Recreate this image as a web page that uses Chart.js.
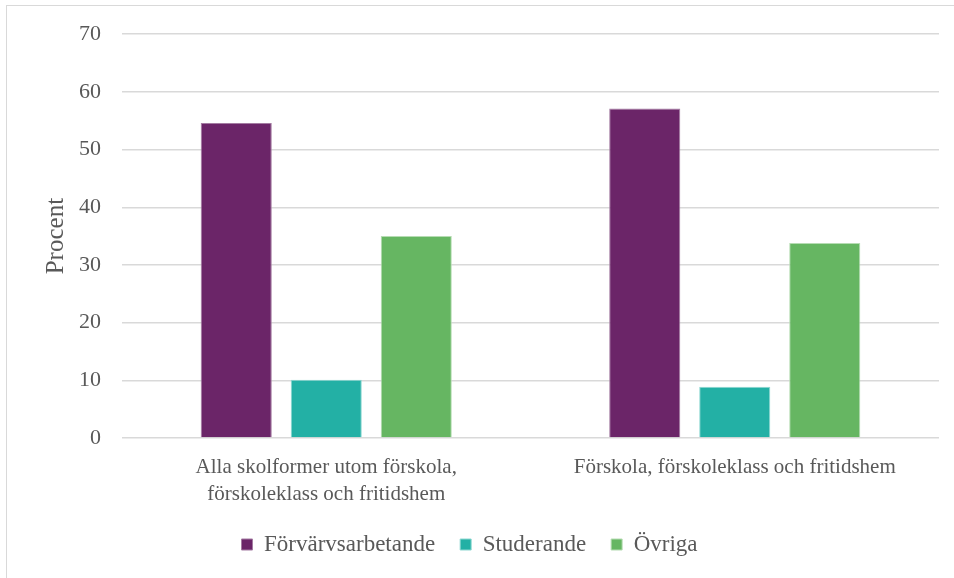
<!DOCTYPE html>
<html>
<head>
<meta charset="utf-8">
<script src="https://cdn.jsdelivr.net/npm/chart.js@4/dist/chart.umd.min.js"></script>
<style>
  html, body { margin: 0; padding: 0; background: #fff; overflow: hidden; }
  #wrap { position: relative; width: 954px; height: 578px; overflow: hidden; }
  #frame { position: absolute; left: 6px; top: 5px; width: 1000px; height: 600px; border: 1px solid #d9d9d9; box-sizing: border-box; }
  canvas { position: absolute; left: 0; top: 0; }
</style>
</head>
<body>
<div id="wrap">
  <div id="frame"></div>
  <canvas id="myChart" width="954" height="578"></canvas>
</div>
<script>
// kategorier och serier
const categories = [
    ['Alla skolformer utom förskola,', 'förskoleklass och fritidshem'],
    'Förskola, förskoleklass och fritidshem'
];
const seriesNames = ['Förvärvsarbetande', 'Studerande', 'Övriga'];
const forvarvsarbetande = [54.6, 57.1];
const studerande = [10.1, 8.9];
const ovriga = [35.0, 33.8];
const yTicks = [0, 10, 20, 30, 40, 50, 60, 70];

const fill = ['#6b2568', '#23b0a5', '#66b662'];
const edge = ['#a47ba2', '#8fd8d2', '#b6dcb3'];
const textColor = '#595959';
const serif = "'Liberation Serif', 'DejaVu Serif', serif";

Chart.defaults.font.family = serif;
Chart.defaults.color = textColor;

const values = [forvarvsarbetande, studerande, ovriga];

var ctx = document.getElementById('myChart').getContext('2d');
var myChart = new Chart(ctx, {
    type: 'bar',
    data: {
        labels: categories,
        datasets: seriesNames.map((name, i) => ({
            label: name,
            data: values[i],
            backgroundColor: fill[i],
            borderColor: edge[i],
            borderWidth: 1,
            categoryPercentage: 0.661,
            barPercentage: 0.79
        }))
    },
    options: {
        responsive: false,
        animation: false,
        layout: { padding: { top: 28, right: 15, left: 0, bottom: 12 } },
        plugins: {
            tooltip: { enabled: false },
            legend: {
                position: 'bottom',
                labels: {
                    boxWidth: 11,
                    boxHeight: 11,
                    padding: 25,
                    color: textColor,
                    font: { size: 23, family: serif }
                }
            }
        },
        scales: {
            x: {
                grid: { display: false },
                border: { display: false },
                ticks: { color: textColor, font: { size: 21, family: serif, lineHeight: 1.3 }, padding: 8, maxRotation: 0 },
                afterFit: scale => { scale.height = 70; }
            },
            y: {
                min: 0,
                max: 70,
                afterBuildTicks: scale => { scale.ticks = yTicks.map(v => ({ value: v })); },
                grid: { color: '#d9d9d9', lineWidth: 1.5, drawTicks: false },
                border: { display: false },
                ticks: { color: textColor, font: { size: 22, family: serif }, padding: 21 },
                title: { display: true, text: 'Procent', color: textColor, font: { size: 25, family: serif }, padding: { top: 41, bottom: 0 } },
                afterFit: scale => { scale.width = 122; }
            }
        }
    }
});
</script>
</body>
</html>
